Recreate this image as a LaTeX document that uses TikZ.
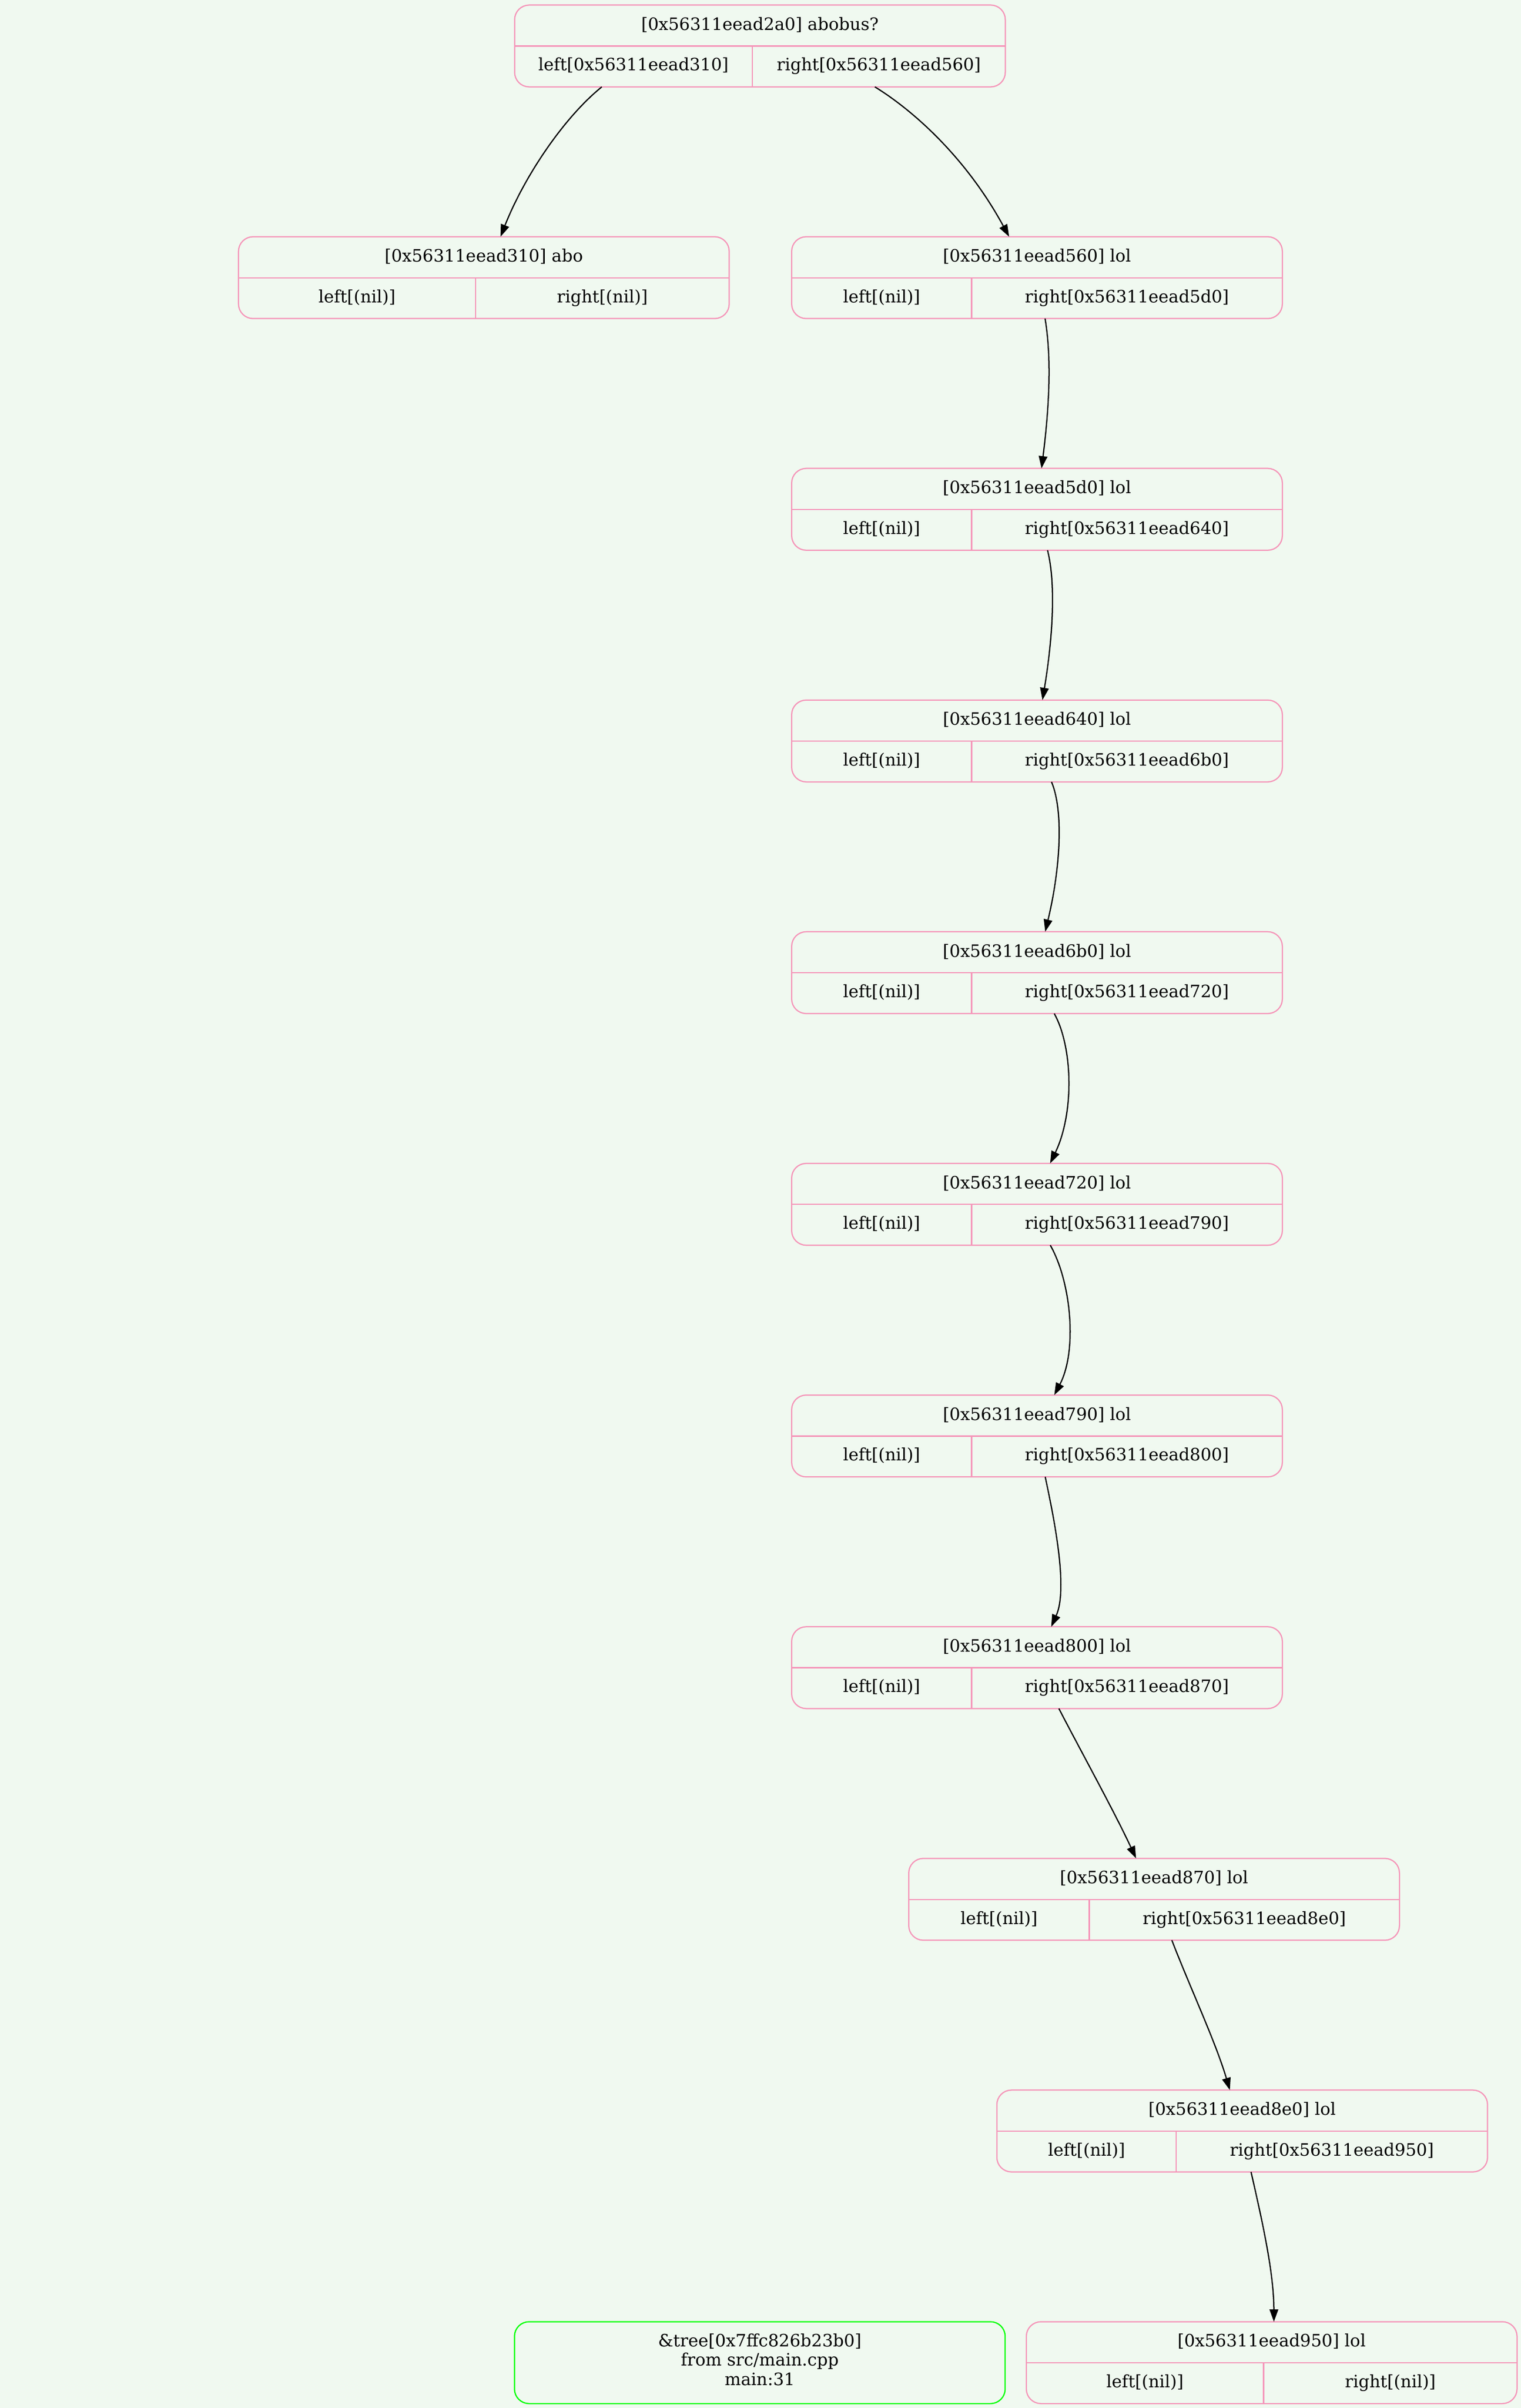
\documentclass[tikz,border=0pt]{standalone}
\usepackage{fontspec}
\setmainfont{DejaVu Serif}
\usetikzlibrary{calc,arrows.meta}
\definecolor{bgc}{RGB}{240,249,240}
\definecolor{pinkc}{RGB}{245,150,185}
\definecolor{greenc}{RGB}{0,255,0}
\tikzset{
  rec/.style={draw=pinkc, fill=bgc, line width=0.8pt, rounded corners=9.5pt,
    minimum width=319.7pt, minimum height=53.3pt, inner sep=0pt, outer sep=0pt},
  treebox/.style={draw=greenc, fill=bgc, line width=0.8pt, rounded corners=9.5pt,
    minimum width=319.7pt, minimum height=53.3pt, inner sep=0pt, outer sep=0pt},
  recline/.style={draw=pinkc, line width=0.8pt},
  txt/.style={anchor=base, inner sep=0pt, outer sep=0pt, font=\fontsize{11.1}{13}\selectfont},
  conn/.style={draw=black, line width=0.8pt, -{Triangle[length=8pt,width=5.6pt]}}
}
\newcommand{\recnode}[7]{%
  \node[rec,anchor=north west] (#1) at (#2,#3) {};
  \draw[recline] ($(#1.north west)+(0,26.7)$) -- ($(#1.north east)+(0,26.7)$);
  \draw[recline] ($(#1.north west)+(#4,26.7)$) -- ($(#1.south west)+(#4,0)$);
  \node[txt] (#1h) at ($(#1.north)+(0,16.4)$) {#5};
  \node[txt] (#1l) at ($(#1.north west)+({#4/2},42.8)$) {#6};
  \node[txt] (#1r) at ($(#1.north west)+({(#4+319.7)/2},42.8)$) {#7};
}
\begin{document}
\begin{tikzpicture}[x=1pt,y=-1pt]
\useasboundingbox (0,0) rectangle (991,1568.5);
\fill[bgc] (0,0) rectangle (991,1568.5);

\recnode{top}{335.3}{3.3}{154.8}{[0x56311eead2a0] abobus?}{left[0x56311eead310]}{right[0x56311eead560]}
\recnode{abo}{155.4}{154.2}{154.4}{[0x56311eead310] abo}{left[(nil)]}{right[(nil)]}
\recnode{n560}{515.8}{154.2}{117.2}{[0x56311eead560] lol}{left[(nil)]}{right[0x56311eead5d0]}
\recnode{n5d0}{515.8}{305.1}{117.2}{[0x56311eead5d0] lol}{left[(nil)]}{right[0x56311eead640]}
\recnode{n640}{515.8}{456.0}{117.2}{[0x56311eead640] lol}{left[(nil)]}{right[0x56311eead6b0]}
\recnode{n6b0}{515.8}{606.9}{117.2}{[0x56311eead6b0] lol}{left[(nil)]}{right[0x56311eead720]}
\recnode{n720}{515.8}{757.8}{117.2}{[0x56311eead720] lol}{left[(nil)]}{right[0x56311eead790]}
\recnode{n790}{515.8}{908.7}{117.2}{[0x56311eead790] lol}{left[(nil)]}{right[0x56311eead800]}
\recnode{n800}{515.8}{1059.6}{117.2}{[0x56311eead800] lol}{left[(nil)]}{right[0x56311eead870]}
\recnode{n870}{592.1}{1210.5}{117.6}{[0x56311eead870] lol}{left[(nil)]}{right[0x56311eead8e0]}
\recnode{n8e0}{649.5}{1361.4}{116.9}{[0x56311eead8e0] lol}{left[(nil)]}{right[0x56311eead950]}
\recnode{n950}{668.7}{1512.3}{154.6}{[0x56311eead950] lol}{left[(nil)]}{right[(nil)]}

\node[treebox,anchor=north west] (tree) at (335.2,1512.3) {};
\node[txt] (tree1) at ($(tree.north)+(0,16.3)$) {\&tree[0x7ffc826b23b0]};
\node[txt] (tree2) at ($(tree.north)+(0,28.7)$) {from src/main.cpp};
\node[txt] (tree3) at ($(tree.north)+(0,41.3)$) {main:31};

\draw[conn] ($(top.south west)+(56.8,0)$) .. controls +(-24.1,19.4) and +(15.9,-40.2) .. ($(abo.north west)+(170.7,0)$);
\draw[conn] ($(top.south west)+(234.7,0)$) .. controls +(22,13.4) and +(-29.5,-54.2) .. ($(n560.north west)+(141.7,0)$);
\draw[conn] ($(n560.south west)+(165.1,0)$) .. controls +(4.1,24.5) and +(5.4,-43.1) .. ($(n5d0.north west)+(162.8,0)$);
\draw[conn] ($(n5d0.south west)+(166.7,0)$) .. controls +(5.5,21.6) and +(6.8,-41) .. ($(n640.north west)+(163.4,0)$);
\draw[conn] ($(n640.south west)+(169.3,0)$) .. controls +(7.9,18.7) and +(10,-41.9) .. ($(n6b0.north west)+(165.2,0)$);
\draw[conn] ($(n6b0.south west)+(171.1,0)$) .. controls +(12.1,21.8) and +(15.8,-32.8) .. ($(n720.north west)+(168.4,0)$);
\draw[conn] ($(n720.south west)+(168.5,0)$) .. controls +(13.7,24) and +(15.1,-28.7) .. ($(n790.north west)+(171.1,0)$);
\draw[conn] ($(n790.south west)+(165.2,0)$) .. controls +(6,28) and +(11.1,-24.6) .. ($(n800.north west)+(169.1,0)$);
\draw[conn] ($(n800.south west)+(174.1,0)$) .. controls +(15.1,29.1) and +(-14.2,-30.5) .. ($(n870.north west)+(148.1,0)$);
\draw[conn] ($(n870.south west)+(171.4,0)$) .. controls +(12.5,32.2) and +(-9.3,-31.4) .. ($(n8e0.north west)+(151.8,0)$);
\draw[conn] ($(n8e0.south west)+(165.6,0)$) .. controls +(6.9,30.3) and +(0,-32.3) .. ($(n950.north west)+(161.3,0)$);
\end{tikzpicture}
\end{document}
